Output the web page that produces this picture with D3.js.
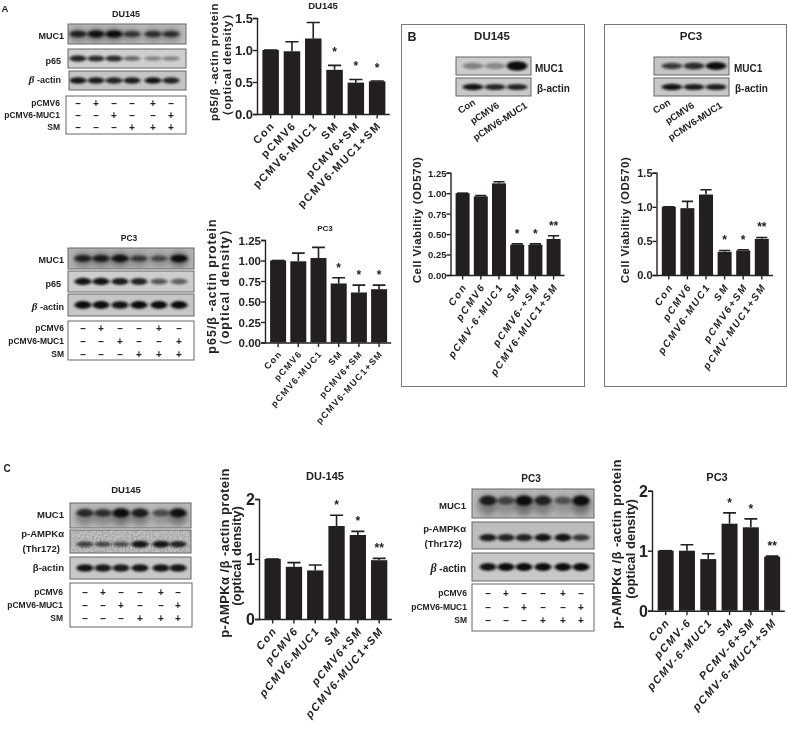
<!DOCTYPE html>
<html>
<head>
<meta charset="utf-8">
<script src="https://d3js.org/d3.v7.min.js"></script>
<style>
body { margin: 0; background: #fff; }
text { font-family: "Liberation Sans", Arial, sans-serif; font-weight: bold; fill: #222; }
</style>
</head>
<body>
<script>
// bar chart data
var catsA1 = ["Con", "pCMV6", "pCMV6-MUC1", "SM", "pCMV6+SM", "pCMV6-MUC1+SM"];
var catsB1 = ["Con", "pCMV6", "pCMV-6-MUC1", "SM", "pCMV6-+SM", "pCMV6-MUC1+SM"];
var catsB2 = ["Con", "pCMV6", "pCMV6-MUC1", "SM", "pCMV6+SM", "pCMV-MUC1+SM"];
var catsC2 = ["Con", "pCMV-6", "pCMV-6-MUC1", "SM", "PCMV-6+SM", "pCMV-6-MUC1+SM"];

var valsA1 = [1.0, 0.98, 1.18, 0.69, 0.49, 0.51];
var errsA1 = [0, 0.15, 0.25, 0.07, 0.05, 0.005];
var valsA2 = [1.0, 0.99, 1.03, 0.72, 0.61, 0.65];
var errsA2 = [0, 0.10, 0.13, 0.07, 0.09, 0.05];
var valsB1 = [1.0, 0.96, 1.12, 0.37, 0.37, 0.44];
var errsB1 = [0, 0.01, 0.02, 0.01, 0.01, 0.04];
var valsB2 = [1.0, 0.98, 1.18, 0.34, 0.36, 0.53];
var errsB2 = [0, 0.10, 0.07, 0.02, 0.01, 0.02];
var valsC1 = [1.0, 0.87, 0.81, 1.55, 1.40, 0.98];
var errsC1 = [0, 0.07, 0.09, 0.18, 0.06, 0.03];
var valsC2 = [1.0, 1.0, 0.86, 1.45, 1.39, 0.90];
var errsC2 = [0, 0.10, 0.09, 0.18, 0.14, 0.01];

var starsA = ["", "", "", "*", "*", "*"];
var starsB = ["", "", "", "*", "*", "**"];

var ticksA1 = [0, 0.5, 1, 1.5];
var ticksQ = [0, 0.25, 0.5, 0.75, 1, 1.25];
var ticksC = [0, 1, 2];

// treatment table
var rowNames = ["pCMV6", "pCMV6-MUC1", "SM"];
var rowSigns = [
  ["–", "+", "–", "–", "+", "–"],
  ["–", "–", "+", "–", "–", "+"],
  ["–", "–", "–", "+", "+", "+"]
];

// band strength per lane (0-1), estimated by eye
var bandsMucA1 = [0.8, 0.95, 1, 0.65, 0.7, 0.7];
var bandsP65A1 = [0.85, 0.8, 0.8, 0.45, 0.3, 0.3];
var bandsActA1 = [0.95, 0.9, 0.85, 0.9, 0.95, 0.85];
var bandsMucA2 = [0.8, 0.85, 0.95, 0.6, 0.5, 1];
var bandsP65A2 = [0.95, 0.95, 0.9, 0.85, 0.55, 0.5];
var bandsActA2 = [1, 1, 0.95, 1, 1, 1];
var bandsMucB1 = [0.3, 0.25, 1];
var bandsActB1 = [0.95, 0.85, 0.85];
var bandsMucB2 = [0.7, 0.8, 1];
var bandsActB2 = [0.95, 0.9, 0.9];
var bandsMucC1 = [0.75, 0.7, 1, 0.85, 0.5, 0.95];
var bandsAmpC1 = [0.65, 0.6, 0.55, 0.95, 0.95, 0.85];
var bandsActC1 = [0.95, 0.9, 0.9, 0.95, 0.95, 0.95];
var bandsMucC2 = [0.85, 0.55, 1, 0.8, 0.45, 1];
var bandsAmpC2 = [0.9, 0.85, 0.85, 0.95, 0.95, 0.7];
var bandsActC2 = [0.95, 1, 1, 1, 1, 1];

var W = 787, H = 729;
var svg = d3.select("body").append("svg").attr("width", W).attr("height", H)
  .style("display", "block").style("filter", "blur(0.4px)");
var defs = svg.append("defs");

defs.append("filter").attr("id", "blur").attr("x", "-30%").attr("y", "-80%").attr("width", "160%").attr("height", "260%")
  .append("feGaussianBlur").attr("stdDeviation", "1.5 0.8");
defs.append("filter").attr("id", "smear").attr("x", "-40%").attr("y", "-100%").attr("width", "180%").attr("height", "300%")
  .append("feGaussianBlur").attr("stdDeviation", 3.2);
var grain = defs.append("filter").attr("id", "grain").attr("x", 0).attr("y", 0).attr("width", "100%").attr("height", "100%");
grain.append("feTurbulence").attr("type", "fractalNoise").attr("baseFrequency", 0.55).attr("numOctaves", 2).attr("seed", 4);
grain.append("feColorMatrix").attr("values", "0 0 0 0 0.25  0 0 0 0 0.25  0 0 0 0 0.25  0 0 0 1.7 -0.65");

var opacity = d3.scaleLinear().domain([0, 1]).range([0.12, 1]);
var thick = d3.scaleLinear().domain([0, 1]).range([0.16, 0.3]);

function label(x, y, str, size, anchor, parent) {
  return (parent || svg).append("text").attr("x", x).attr("y", y)
    .attr("text-anchor", anchor || "middle").style("font-size", size + "px").text(str);
}

// label with the beta drawn as a serif italic glyph
function betaLabel(x, y, size) {
  var t = label(x, y, "", size, "end");
  t.append("tspan").style("font-family", "'Liberation Serif', serif").style("font-style", "italic").style("font-size", (size + 2) + "px").text("β");
  t.append("tspan").text(" -actin");
}

function blot(b, lanes) {
  var g = svg.append("g");
  var h = b.y1 - b.y0;
  var clip = "c" + b.x0 + "_" + b.y0;
  defs.append("clipPath").attr("id", clip).append("rect")
    .attr("x", b.x0).attr("y", b.y0).attr("width", b.x1 - b.x0).attr("height", h);
  var inner = g.append("g").attr("clip-path", "url(#" + clip + ")");
  inner.append("rect").attr("x", b.x0).attr("y", b.y0).attr("width", b.x1 - b.x0).attr("height", h).attr("fill", b.bg);
  if (b.noise) {
    inner.append("rect").attr("x", b.x0).attr("y", b.y0).attr("width", b.x1 - b.x0).attr("height", h).attr("filter", "url(#grain)");
  }
  var rx = (lanes[1] - lanes[0]) * 0.5;
  if (b.smear) {
    inner.selectAll(".sm").data(b.bands).enter().append("ellipse")
      .attr("cx", function(d, i) { return lanes[i]; })
      .attr("cy", b.y0 + h * 0.55)
      .attr("rx", rx * 1.1)
      .attr("ry", h * 0.36)
      .attr("fill", "#333")
      .attr("opacity", function(d) { return d * 0.55; })
      .attr("filter", "url(#smear)");
  }
  inner.selectAll(".band").data(b.bands).enter().append("ellipse")
    .attr("cx", function(d, i) { return lanes[i]; })
    .attr("cy", b.y0 + h * (b.cy || 0.5))
    .attr("rx", rx * 0.95)
    .attr("ry", function(d) { return h * thick(d) * (b.ryk || 0.5) * 1.2; })
    .attr("fill", "#111")
    .attr("opacity", function(d) { return opacity(d); })
    .attr("filter", "url(#blur)");
  g.append("rect").attr("x", b.x0).attr("y", b.y0).attr("width", b.x1 - b.x0).attr("height", h)
    .attr("fill", "none").attr("stroke", "#666").attr("stroke-width", 1);
}

function signTable(t, lanes) {
  svg.append("rect").attr("x", t.x0).attr("y", t.y0).attr("width", t.x1 - t.x0).attr("height", t.y1 - t.y0)
    .attr("fill", "#fff").attr("stroke", "#666").attr("stroke-width", 1);
  rowNames.forEach(function(name, r) {
    label(t.lx, t.rows[r] + 3, name, t.size || 8.5, "end");
    svg.selectAll(".s").data(rowSigns[r]).enter().append("text")
      .attr("x", function(d, i) { return lanes[i]; })
      .attr("y", t.rows[r] + 3.5)
      .attr("text-anchor", "middle")
      .style("font-size", "10px")
      .text(function(d) { return d; });
  });
}

function barChart(c) {
  var x = d3.scaleBand().domain(c.cats).range([c.left, c.left + c.step * 6]).paddingInner(1 - c.barW / c.step).paddingOuter((1 - c.barW / c.step) / 2);
  var y = d3.scaleLinear().domain([0, c.ymax]).range([c.bottom, c.top]);
  var g = svg.append("g");

  g.selectAll(".err").data(c.vals).enter().append("path")
    .attr("d", function(d, i) {
      var mx = x(c.cats[i]) + x.bandwidth() / 2, e = y(d + c.errs[i]);
      return "M" + mx + "," + y(d) + "V" + e + "M" + (mx - x.bandwidth() * 0.4) + "," + e + "H" + (mx + x.bandwidth() * 0.4);
    })
    .attr("stroke", "#231f20").attr("stroke-width", 1.6).attr("fill", "none");

  g.selectAll(".bar").data(c.vals).enter().append("rect")
    .attr("x", function(d, i) { return x(c.cats[i]); })
    .attr("width", x.bandwidth())
    .attr("y", function(d) { return y(d); })
    .attr("height", function(d) { return c.bottom - y(d); })
    .attr("fill", "#231f20");

  g.selectAll(".star").data(c.stars).enter().append("text")
    .attr("x", function(d, i) { return x(c.cats[i]) + x.bandwidth() / 2; })
    .attr("y", function(d, i) { return y(c.vals[i] + c.errs[i]) - (c.starDy || 6); })
    .attr("text-anchor", "middle")
    .style("font-size", "12px")
    .text(function(d) { return d; });

  var ax = g.append("g").attr("transform", "translate(" + (c.left - 3) + ",0)")
    .call(d3.axisLeft(y).tickValues(c.ticks).tickFormat(d3.format(c.fmt)).tickSize(4));
  ax.selectAll("text").style("font-size", c.tickSize + "px").attr("x", -4).attr("dy", ".36em");
  ax.selectAll("line,path").attr("stroke", "#222").attr("stroke-width", 1.4);

  var bx = g.append("g").attr("transform", "translate(0," + (c.bottom + 0.5) + ")")
    .call(d3.axisBottom(x).tickSize(4).tickSizeOuter(0));
  bx.select(".domain").attr("d", "M" + (c.left - 3) + ",0H" + (c.left + c.step * 6 + 2));
  bx.selectAll("line,.domain").attr("stroke", "#222").attr("stroke-width", 1.4);
  bx.selectAll("text")
    .style("text-anchor", "end")
    .style("font-size", c.catSize + "px")
    .style("font-style", c.italic ? "italic" : "normal")
    .style("letter-spacing", c.spacing + "px")
    .attr("x", 0)
    .attr("y", 0)
    .attr("dy", ".35em")
    .attr("transform", "translate(2,9) rotate(" + c.angle + ")");

  c.ylabels.forEach(function(l) {
    svg.append("text").attr("transform", "translate(" + l.x + "," + l.y + ") rotate(-90)")
      .attr("text-anchor", "middle").style("font-size", l.size + "px")
      .style("letter-spacing", (l.sp || 0) + "px").text(l.text);
  });
  if (c.title) label(c.titleX, c.titleY, c.title, c.titleSize);
}

// panel A, DU145
label(5, 12, "A", 9.5);
label(126, 17, "DU145", 9);
var lanesA1 = [78, 96, 114, 132, 153, 171];
blot({x0: 68, x1: 186, y0: 24, y1: 44, bg: "#bdbdbd", bands: bandsMucA1, smear: true}, lanesA1);
blot({x0: 68, x1: 186, y0: 49, y1: 68, bg: "#cfcfcf", bands: bandsP65A1}, lanesA1);
blot({x0: 69, x1: 186, y0: 71, y1: 90, bg: "#c4c4c4", bands: bandsActA1}, lanesA1);
label(64, 39, "MUC1", 9, "end");
label(61, 64, "p65", 9, "end");
betaLabel(61, 83, 9);
signTable({x0: 66, x1: 186, y0: 96, y1: 134, lx: 60, rows: [103, 115, 127]}, lanesA1);
barChart({cats: catsA1, vals: valsA1, errs: errsA1, stars: starsA, ticks: ticksA1, fmt: ".1f", ymax: 1.5, starDy: 9,
  left: 260, step: 21.3, barW: 16.5, top: 18, bottom: 114, tickSize: 13, catSize: 11, spacing: 1.5, italic: false, angle: -46,
  title: "DU145", titleX: 323, titleY: 9, titleSize: 9.5,
  ylabels: [{x: 218, y: 62, size: 11.5, sp: 0.6, text: "p65/β -actin protein"}, {x: 231, y: 65, size: 11.5, sp: 0.6, text: "（optical density）"}]});

// panel A, PC3
label(129, 241, "PC3", 8.5);
var lanesA2 = [83, 101, 120, 139, 159, 179];
blot({x0: 68, x1: 194, y0: 248, y1: 269, bg: "#b4b4b4", bands: bandsMucA2, smear: true}, lanesA2);
blot({x0: 68, x1: 194, y0: 271, y1: 292, bg: "#cdcdcd", bands: bandsP65A2}, lanesA2);
blot({x0: 68, x1: 194, y0: 294, y1: 316, bg: "#c6c6c6", bands: bandsActA2}, lanesA2);
label(64, 263, "MUC1", 9, "end");
label(61, 287, "p65", 9, "end");
betaLabel(64, 310, 9);
signTable({x0: 68, x1: 194, y0: 321, y1: 360, lx: 64, rows: [328, 341, 354]}, lanesA2);
barChart({cats: catsA1, vals: valsA2, errs: errsA2, stars: starsA, ticks: ticksQ, fmt: ".2f", ymax: 1.25,
  left: 268, step: 20.2, barW: 16, top: 240, bottom: 342.5, tickSize: 11.5, catSize: 9, spacing: 1.3, italic: false, angle: -48,
  title: "PC3", titleX: 325, titleY: 231, titleSize: 8,
  ylabels: [{x: 216, y: 286, size: 12.5, sp: 1, text: "p65/β -actin protein"}, {x: 229, y: 287, size: 12.5, sp: 1, text: "（optical density）"}]});

// panel B boxes
svg.append("rect").attr("x", 401.5).attr("y", 24.5).attr("width", 183).attr("height", 362).attr("fill", "none").attr("stroke", "#777");
svg.append("rect").attr("x", 604.5).attr("y", 24.5).attr("width", 182).attr("height", 362).attr("fill", "none").attr("stroke", "#777");

function lanePair(dx) {
  label(0, 0, "Con", 9.5, "end").attr("transform", "translate(" + (476 + dx) + ",104) rotate(-33)").attr("x", 0);
  label(0, 0, "pCMV6", 9.5, "end").attr("transform", "translate(" + (500 + dx) + ",107) rotate(-33)");
  label(0, 0, "pCMV6-MUC1", 9.5, "end").attr("transform", "translate(" + (528 + dx) + ",107) rotate(-33)");
}

// panel B, DU145
label(412, 41, "B", 12.5);
label(492, 40, "DU145", 11.5);
var lanesB1 = [473, 495, 517];
blot({x0: 456, x1: 531, y0: 57, y1: 75, bg: "#cccccc", bands: bandsMucB1, ryk: 0.75}, lanesB1);
blot({x0: 456, x1: 531, y0: 78, y1: 96, bg: "#c8c8c8", bands: bandsActB1}, lanesB1);
label(535, 72, "MUC1", 10, "start");
label(537, 92, "β-actin", 10, "start");
lanePair(0);
barChart({cats: catsB1, vals: valsB1, errs: errsB1, stars: starsB, ticks: ticksQ, fmt: ".2f", ymax: 1.25,
  left: 453.5, step: 18.2, barW: 14, top: 172.7, bottom: 275, tickSize: 9.5, catSize: 10, spacing: 1.8, italic: true, angle: -55,
  ylabels: [{x: 421, y: 220, size: 11.5, sp: 0.5, text: "Cell Viabiltiy (OD570)"}]});

// panel B, PC3
label(691, 40, "PC3", 11.5);
var lanesB2 = [672, 694, 716];
blot({x0: 654, x1: 729, y0: 57, y1: 75, bg: "#c4c4c4", bands: bandsMucB2, ryk: 0.6}, lanesB2);
blot({x0: 654, x1: 729, y0: 78, y1: 96, bg: "#c8c8c8", bands: bandsActB2}, lanesB2);
label(734, 72, "MUC1", 10, "start");
label(735, 92, "β-actin", 10, "start");
lanePair(195);
barChart({cats: catsB2, vals: valsB2, errs: errsB2, stars: starsB, ticks: ticksA1, fmt: ".1f", ymax: 1.5,
  left: 659.5, step: 18.6, barW: 14, top: 172.7, bottom: 275, tickSize: 11, catSize: 10, spacing: 1.8, italic: true, angle: -55,
  ylabels: [{x: 629, y: 220, size: 11.5, sp: 0.5, text: "Cell Viabiltiy (OD570)"}]});

// panel C, DU145
label(7, 472, "C", 10);
label(126, 493, "DU145", 9.5);
var lanesC1 = [85, 103, 121, 140, 161, 178];
blot({x0: 70, x1: 191, y0: 503, y1: 528, bg: "#bcbcbc", bands: bandsMucC1, smear: true, cy: 0.4}, lanesC1);
blot({x0: 70, x1: 191, y0: 530, y1: 553, bg: "#c2c2c2", bands: bandsAmpC1, noise: true, cy: 0.62, ryk: 0.42}, lanesC1);
blot({x0: 70, x1: 191, y0: 557, y1: 579, bg: "#c8c8c8", bands: bandsActC1}, lanesC1);
label(64, 518, "MUC1", 9.5, "end");
label(64, 537, "p-AMPKα", 9.5, "end");
label(60, 552, "(Thr172)", 9.5, "end");
label(64, 571, "β-actin", 9.5, "end");
signTable({x0: 70, x1: 192, y0: 583, y1: 627, lx: 63, rows: [592, 605, 618]}, lanesC1);
barChart({cats: catsA1, vals: valsC1, errs: errsC1, stars: starsB, ticks: ticksC, fmt: "d", ymax: 2,
  left: 262, step: 21.3, barW: 16.3, top: 499, bottom: 619, tickSize: 16, catSize: 11, spacing: 1.5, italic: true, angle: -50,
  title: "DU-145", titleX: 325, titleY: 480, titleSize: 11,
  ylabels: [{x: 229, y: 553, size: 13, sp: 0.4, text: "p-AMPKα /β -actin protein"}, {x: 241, y: 556, size: 13, text: "(optical density)"}]});

// panel C, PC3
label(531, 482, "PC3", 10);
var lanesC2 = [488, 506, 524, 543, 563, 581];
blot({x0: 472, x1: 594, y0: 489, y1: 518, bg: "#b8b8b8", bands: bandsMucC2, smear: true, cy: 0.4}, lanesC2);
blot({x0: 472, x1: 594, y0: 522, y1: 549, bg: "#bdbdbd", bands: bandsAmpC2, cy: 0.58, ryk: 0.4}, lanesC2);
blot({x0: 472, x1: 594, y0: 553, y1: 581, bg: "#c8c8c8", bands: bandsActC2, ryk: 0.4}, lanesC2);
label(466, 509, "MUC1", 9.5, "end");
label(466, 532, "p-AMPKα", 9.5, "end");
label(462, 547, "(Thr172)", 9.5, "end");
betaLabel(466, 572, 10);
signTable({x0: 472, x1: 594, y0: 584, y1: 631, lx: 467, rows: [593, 607, 620]}, lanesC2);
barChart({cats: catsC2, vals: valsC2, errs: errsC2, stars: starsB, ticks: ticksC, fmt: "d", ymax: 2,
  left: 655, step: 21.3, barW: 16, top: 490.7, bottom: 610.7, tickSize: 16, catSize: 11, spacing: 1.5, italic: true, angle: -48,
  title: "PC3", titleX: 717, titleY: 481, titleSize: 11,
  ylabels: [{x: 621, y: 544, size: 13, sp: 0.4, text: "p-AMPKα /β -actin protein"}, {x: 635, y: 549, size: 13, text: "(optical density)"}]});
</script>
</body>
</html>
